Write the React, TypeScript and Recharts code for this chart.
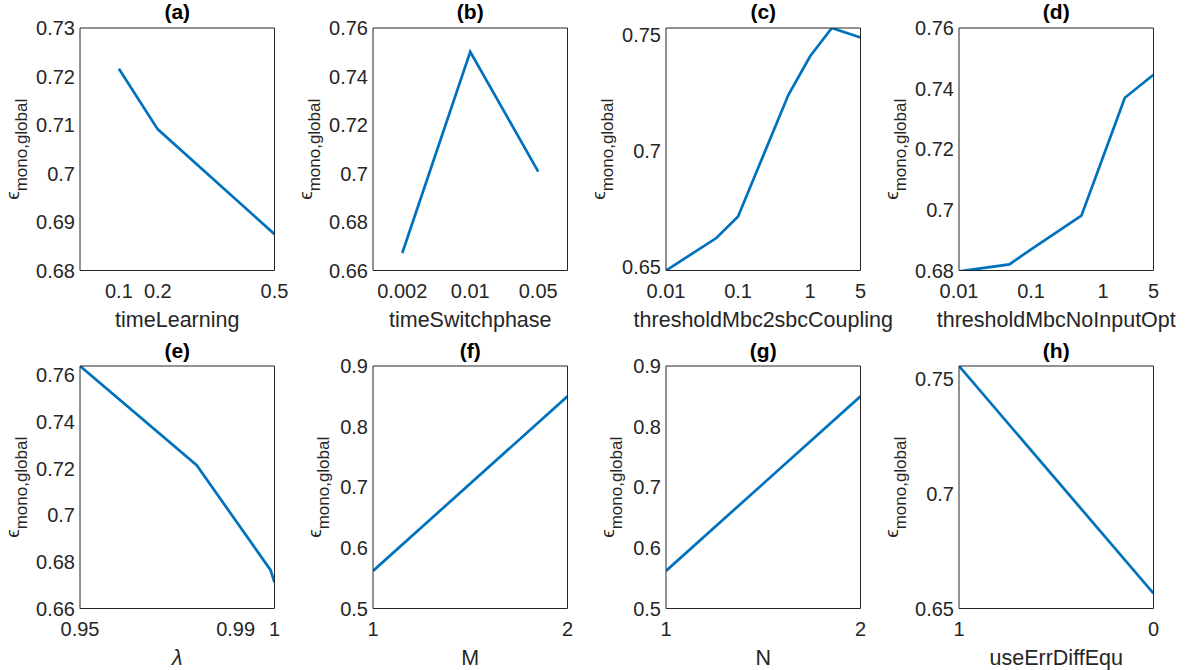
import { LineChart, Line, XAxis, YAxis } from "recharts";

const FONT = '"Liberation Sans", Arial, Helvetica, sans-serif';
const INK = "#262626";
const BLUE = "#0072BD";

// (a) timeLearning
const A_X = [0.1, 0.2, 0.5];
const A_Y = [0.7216, 0.7091, 0.6875];
const A_XTICKS = [0.1, 0.2, 0.5];
const A_YTICKS = [0.68, 0.69, 0.7, 0.71, 0.72, 0.73];

// (b) timeSwitchphase
const B_X = [0.002, 0.01, 0.05];
const B_Y = [0.6672, 0.7502, 0.7008];
const B_XTICKS = [0.002, 0.01, 0.05];
const B_YTICKS = [0.66, 0.68, 0.7, 0.72, 0.74, 0.76];

// (c) thresholdMbc2sbcCoupling
const C_X = [0.01, 0.05, 0.1, 0.5, 1, 2, 5];
const C_Y = [0.6483, 0.6623, 0.6716, 0.7241, 0.7407, 0.7529, 0.7488];
const C_XTICKS = [0.01, 0.1, 1, 5];
const C_YTICKS = [0.65, 0.7, 0.75];

// (d) thresholdMbcNoInputOpt
const D_X = [0.01, 0.05, 0.1, 0.5, 1, 2, 5];
const D_Y = [0.6797, 0.682, 0.687, 0.6981, 0.7175, 0.737, 0.7446];
const D_XTICKS = [0.01, 0.1, 1, 5];
const D_YTICKS = [0.68, 0.7, 0.72, 0.74, 0.76];

// (e) lambda
const E_X = [0.95, 0.98, 0.999, 1];
const E_Y = [0.7639, 0.7214, 0.6764, 0.6712];
const E_XTICKS = [0.95, 0.99, 1];
const E_YTICKS = [0.66, 0.68, 0.7, 0.72, 0.74, 0.76];

// (f) M
const F_X = [1, 2];
const F_Y = [0.562, 0.85];
const F_XTICKS = [1, 2];
const F_YTICKS = [0.5, 0.6, 0.7, 0.8, 0.9];

// (g) N
const G_X = [1, 2];
const G_Y = [0.562, 0.85];
const G_XTICKS = [1, 2];
const G_YTICKS = [0.5, 0.6, 0.7, 0.8, 0.9];

// (h) useErrDiffEqu
const H_X = [1, 0];
const H_Y = [0.7558, 0.6566];
const H_XTICKS = [1, 0];
const H_YTICKS = [0.65, 0.7, 0.75];

type PanelSpec = {
  title: string;
  xLabel: string;
  italicLabel?: boolean;
  xs: number[];
  ys: number[];
  xTicks: number[];
  yTicks: number[];
  xDomain: [number, number];
  yDomain: [number, number];
  log?: boolean;
  reversed?: boolean;
  yLabelGap: number;
};

const PANELS: PanelSpec[] = [
  { title: "(a)", xLabel: "timeLearning", xs: A_X, ys: A_Y, xTicks: A_XTICKS, yTicks: A_YTICKS, xDomain: [0, 0.5], yDomain: [0.68, 0.73], yLabelGap: 61 },
  { title: "(b)", xLabel: "timeSwitchphase", xs: B_X, ys: B_Y, xTicks: B_XTICKS, yTicks: B_YTICKS, xDomain: [0.001, 0.1], yDomain: [0.66, 0.76], log: true, yLabelGap: 61 },
  { title: "(c)", xLabel: "thresholdMbc2sbcCoupling", xs: C_X, ys: C_Y, xTicks: C_XTICKS, yTicks: C_YTICKS, xDomain: [0.01, 5], yDomain: [0.6483, 0.7529], log: true, yLabelGap: 61 },
  { title: "(d)", xLabel: "thresholdMbcNoInputOpt", xs: D_X, ys: D_Y, xTicks: D_XTICKS, yTicks: D_YTICKS, xDomain: [0.01, 5], yDomain: [0.68, 0.76], log: true, yLabelGap: 61 },
  { title: "(e)", xLabel: "λ", italicLabel: true, xs: E_X, ys: E_Y, xTicks: E_XTICKS, yTicks: E_YTICKS, xDomain: [0.95, 1], yDomain: [0.66, 0.7639], yLabelGap: 61 },
  { title: "(f)", xLabel: "M", xs: F_X, ys: F_Y, xTicks: F_XTICKS, yTicks: F_YTICKS, xDomain: [1, 2], yDomain: [0.5, 0.9], yLabelGap: 52 },
  { title: "(g)", xLabel: "N", xs: G_X, ys: G_Y, xTicks: G_XTICKS, yTicks: G_YTICKS, xDomain: [1, 2], yDomain: [0.5, 0.9], yLabelGap: 52 },
  { title: "(h)", xLabel: "useErrDiffEqu", xs: H_X, ys: H_Y, xTicks: H_XTICKS, yTicks: H_YTICKS, xDomain: [0, 1], yDomain: [0.65, 0.7558], reversed: true, yLabelGap: 61 },
];

// subplot grid (left edge of each axes box, top edge of each row)
const COL_LEFT = [80, 373, 666, 958.5];
const ROW_TOP = [28, 366];
const TITLE_GAP = [9.5, 8.3];

const YAW = 85;
const TOP = 28;
const PLOT_W = 194.5;
const PLOT_H = 242.5;
const RIGHT = 35;
const XAH = 64;
const W = YAW + PLOT_W + RIGHT;
const H = TOP + PLOT_H + XAH;

const TICK = { fill: INK, fontSize: 20, fontFamily: FONT };

function fmt(v: number) {
  return String(Number(v.toFixed(4)));
}

function minorLogTicks(lo: number, hi: number) {
  const out: number[] = [];
  for (let d = Math.floor(Math.log10(lo)); d < Math.ceil(Math.log10(hi)); d++) {
    for (let m = 2; m <= 9; m++) {
      const t = Number((m * Math.pow(10, d)).toPrecision(6));
      if (t > lo && t < hi) out.push(t);
    }
  }
  return out;
}

function Panel({ p, left, top, titleGap }: { p: PanelSpec; left: number; top: number; titleGap: number }) {
  const data = p.xs.map((x, i) => ({ x, y: p.ys[i] }));
  const scale = p.log ? "log" : "linear";
  const minor = p.log ? minorLogTicks(p.xDomain[0], p.xDomain[1]) : [];
  const cx = YAW + PLOT_W / 2;
  const ly = TOP + PLOT_H / 2;
  const lx = YAW - p.yLabelGap;

  const title = () => (
    <text x={cx} y={TOP - titleGap} textAnchor="middle" fontWeight="bold" fontSize={21} fontFamily={FONT} fill="#000">
      {p.title}
    </text>
  );
  const xLabel = () => (
    <text x={cx} y={TOP + PLOT_H + 56} textAnchor="middle" fontSize={21.5} fontFamily={FONT} fontStyle={p.italicLabel ? "italic" : "normal"} fill={INK}>
      {p.xLabel}
    </text>
  );
  const yLabel = () => (
    <text transform={`rotate(-90 ${lx} ${ly})`} x={lx} y={ly} textAnchor="middle" fontFamily={FONT} fill={INK}>
      <tspan fontSize={19}>ϵ</tspan>
      <tspan fontSize={17} dy={8}>mono,global</tspan>
    </text>
  );

  // thin mirrored axes only carry the inward tick marks and the box edges
  const edge = { mirror: true, tick: false, interval: 0, allowDataOverflow: true, type: "number" } as const;

  return (
    <div style={{ position: "absolute", left: left - YAW, top: top - TOP }}>
      <LineChart width={W} height={H} data={data} margin={{ top: TOP, right: RIGHT, bottom: 0, left: 0 }}>
        <XAxis
          xAxisId="x"
          dataKey="x"
          type="number"
          scale={scale}
          domain={p.xDomain}
          reversed={p.reversed}
          allowDataOverflow
          ticks={p.xTicks}
          interval={0}
          tickFormatter={fmt}
          tick={TICK}
          tickLine={false}
          tickSize={0}
          tickMargin={13}
          height={XAH}
          axisLine={{ stroke: INK }}
          label={xLabel}
        />
        <XAxis {...edge} xAxisId="xb" dataKey="x" scale={scale} domain={p.xDomain} reversed={p.reversed} ticks={p.xTicks} height={1} tickSize={5} tickLine={{ stroke: INK }} axisLine={false} />
        <XAxis {...edge} xAxisId="xt" dataKey="x" orientation="top" scale={scale} domain={p.xDomain} reversed={p.reversed} ticks={p.xTicks} height={1} tickSize={5} tickLine={{ stroke: INK }} axisLine={{ stroke: INK }} label={title} />
        {p.log && (
          <XAxis {...edge} xAxisId="xbm" dataKey="x" scale={scale} domain={p.xDomain} ticks={minor} height={1} tickSize={2.5} tickLine={{ stroke: INK }} axisLine={false} />
        )}
        {p.log && (
          <XAxis {...edge} xAxisId="xtm" dataKey="x" orientation="top" scale={scale} domain={p.xDomain} ticks={minor} height={1} tickSize={2.5} tickLine={{ stroke: INK }} axisLine={false} />
        )}
        <YAxis
          yAxisId="y"
          dataKey="y"
          type="number"
          domain={p.yDomain}
          allowDataOverflow
          ticks={p.yTicks}
          interval={0}
          tickFormatter={fmt}
          tick={TICK}
          tickLine={false}
          tickSize={0}
          tickMargin={5}
          width={YAW}
          axisLine={{ stroke: INK }}
          label={yLabel}
        />
        <YAxis {...edge} yAxisId="yl" dataKey="y" domain={p.yDomain} ticks={p.yTicks} width={1} tickSize={5} tickLine={{ stroke: INK }} axisLine={false} />
        <YAxis {...edge} yAxisId="yr" dataKey="y" orientation="right" domain={p.yDomain} ticks={p.yTicks} width={1} tickSize={5} tickLine={{ stroke: INK }} axisLine={{ stroke: INK }} />
        <Line
          xAxisId="x"
          yAxisId="y"
          dataKey="y"
          type="linear"
          stroke={BLUE}
          strokeWidth={2.7}
          dot={false}
          activeDot={false}
          isAnimationActive={false}
        />
      </LineChart>
    </div>
  );
}

export default function App() {
  return (
    <div style={{ position: "absolute", left: 0, top: 0, width: 1188, height: 670, overflow: "hidden", background: "#fff" }}>
      {PANELS.map((p, i) => {
        const row = Math.floor(i / 4);
        return <Panel key={p.title} p={p} left={COL_LEFT[i % 4]} top={ROW_TOP[row]} titleGap={TITLE_GAP[row]} />;
      })}
    </div>
  );
}
